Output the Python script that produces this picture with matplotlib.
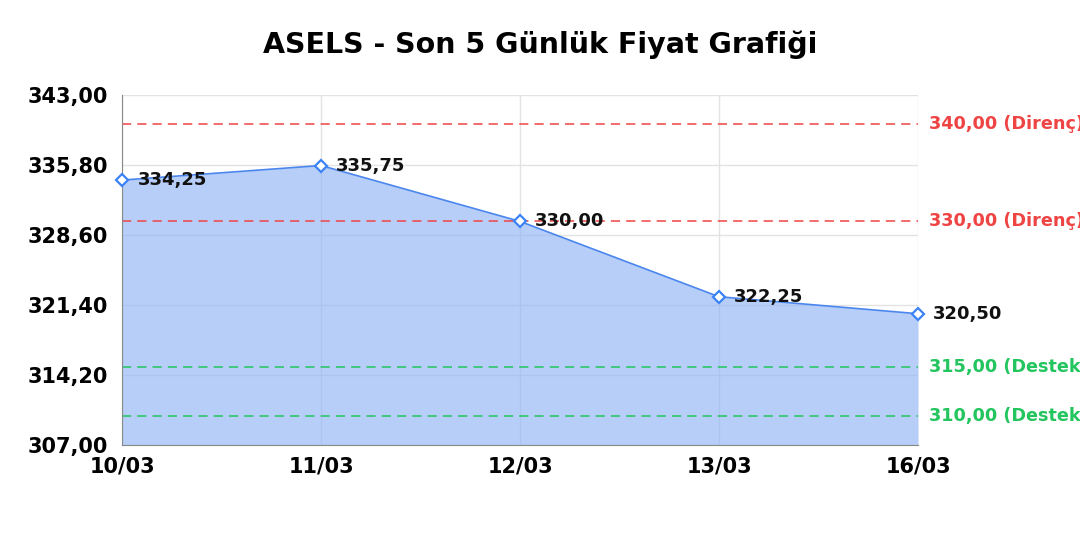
import matplotlib
matplotlib.use("Agg")
import matplotlib.pyplot as plt

plt.rcParams["font.family"] = ["DejaVu Sans"]

dates = ["10/03", "11/03", "12/03", "13/03", "16/03"]
prices = [334.25, 335.75, 330.00, 322.25, 320.50]
resistance = [340.00, 330.00]
support = [315.00, 310.00]
yticks = [307.00, 314.20, 321.40, 328.60, 335.80, 343.00]
title = "ASELS - Son 5 Günlük Fiyat Grafiği"

def fmt(v):
    return f"{v:.2f}".replace(".", ",")

fig = plt.figure(figsize=(10.8, 5.4), dpi=100)
ax = fig.add_axes([0.113, 0.176, 0.737, 0.648])

x = list(range(len(dates)))
ax.set_xlim(0, len(dates) - 1)
ax.set_ylim(yticks[0], yticks[-1])

ax.grid(True, color="#e3e3e3", linewidth=1, zorder=0)
ax.set_axisbelow(True)

ax.fill_between(x, prices, yticks[0], color="#8fb4f5", alpha=0.65, linewidth=0, zorder=1)
ax.plot(x, prices, color="#4a86ee", linewidth=1.2, zorder=3)
ax.plot(x, prices, linestyle="none", marker="D", markersize=6.5, markerfacecolor="white",
        markeredgecolor="#3b82f6", markeredgewidth=1.6, zorder=4, clip_on=False)

for xi, p in zip(x, prices):
    ax.annotate(fmt(p), (xi, p), xytext=(11, 0), textcoords="offset points",
                ha="left", va="center", fontsize=13, fontweight="bold", color="#111111",
                zorder=5, annotation_clip=False)

red = "#ef4444"
green = "#22c55e"
for r in resistance:
    ax.axhline(r, color=red, linestyle=(0, (6, 4)), linewidth=1.1, zorder=2)
    ax.annotate(f"{fmt(r)} (Direnç)", (1, r), xycoords=("axes fraction", "data"),
                xytext=(8, 0), textcoords="offset points", ha="left", va="center",
                fontsize=12.7, fontweight="bold", color=red, annotation_clip=False)
for s in support:
    ax.axhline(s, color=green, linestyle=(0, (6, 4)), linewidth=1.1, zorder=2)
    ax.annotate(f"{fmt(s)} (Destek)", (1, s), xycoords=("axes fraction", "data"),
                xytext=(8, 0), textcoords="offset points", ha="left", va="center",
                fontsize=12.7, fontweight="bold", color=green, annotation_clip=False)

ax.set_xticks(x)
ax.set_xticklabels(dates, fontsize=15, fontweight="bold")
ax.set_yticks(yticks)
ax.set_yticklabels([fmt(v) for v in yticks], fontsize=15, fontweight="bold")
ax.tick_params(axis="x", length=0, pad=8)
ax.tick_params(axis="y", length=0, pad=10)

for side in ["top", "right"]:
    ax.spines[side].set_visible(False)
ax.spines["left"].set_color("#888888")
ax.spines["bottom"].set_color("#888888")

fig.text(0.5, 0.918, title, ha="center", va="center", fontsize=20.5, fontweight="bold")

fig.savefig("out.png", dpi=100)
